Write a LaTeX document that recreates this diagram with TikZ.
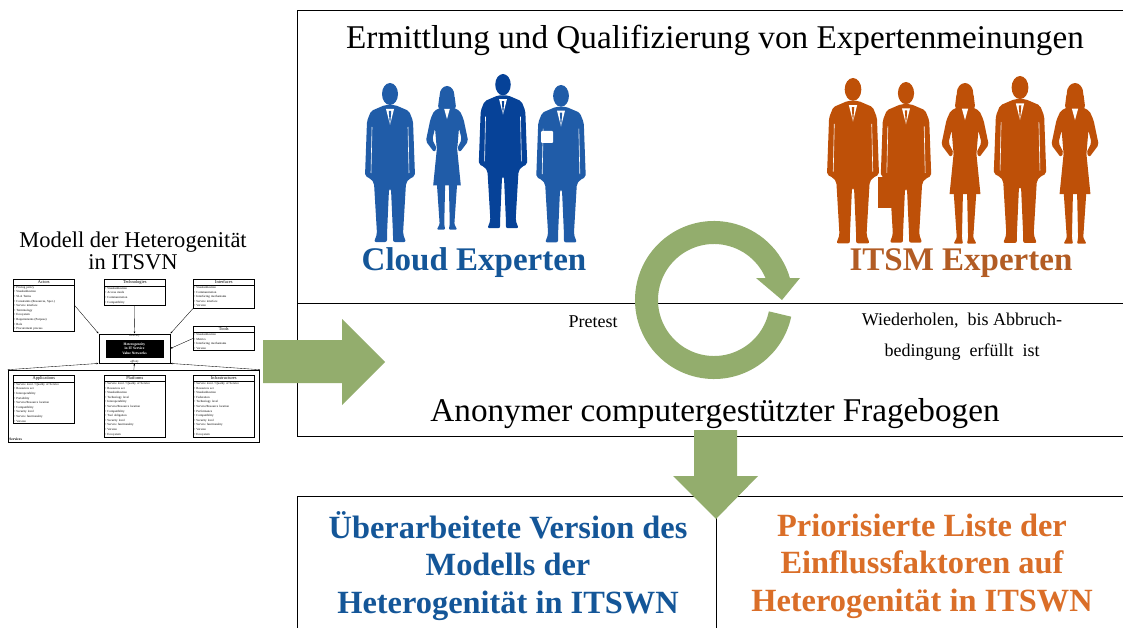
\documentclass[tikz,border=0pt]{standalone}
\usepackage{fontspec}
\setmainfont{Liberation Serif}
\usepackage{tikz}
\usetikzlibrary{positioning, arrows.meta, shapes.multipart, fit, calc}
\definecolor{ink}{RGB}{0,0,0}
\definecolor{leaf}{RGB}{147,173,109}
\definecolor{cloudfig}{RGB}{32,92,168}
\definecolor{clouddark}{RGB}{6,66,152}
\definecolor{cloudtext}{RGB}{20,86,152}
\definecolor{itsmfig}{RGB}{190,80,8}
\definecolor{itsmtext}{RGB}{178,92,36}
\definecolor{listorange}{RGB}{218,110,40}
\newcommand{\boxhead}[1]{\makebox[59pt][c]{\fontsize{4.4}{5.4}\selectfont #1}}
\tikzset{
  panel/.style    ={draw=ink, line width=0.8pt, anchor=north west, inner sep=0pt},
  headline/.style ={font=\fontsize{33.2}{33}\selectfont, inner sep=0pt},
  grouplabel/.style={font=\bfseries\fontsize{33}{33}\selectfont, inner sep=0pt},
  note/.style     ={font=\fontsize{18}{31}\selectfont, align=center, inner sep=0pt},
  result/.style   ={font=\bfseries\fontsize{32.4}{37.5}\selectfont, align=center, inner sep=0pt},
  mbox/.style     ={rectangle split, rectangle split parts=2, draw=ink, line width=0.45pt,
                    text width=59pt, inner sep=1.1pt, anchor=north west,
                    font=\fontsize{3.1}{4.6}\selectfont},
  mline/.style    ={-{Latex[length=2pt, width=1.8pt]}, line width=0.35pt, color=ink},
  pics/manfig/.style={code={
    \fill[#1] (0,11) ellipse [x radius=8, y radius=11];
    \fill[#1, rounded corners=2pt] (-5,22) -- (-19,28) -- (-23,38) -- (-25,93) -- (-19,96)
      -- (-16,100) -- (-13,151) -- (-16,159) -- (-3,159) -- (-3,151) -- (-1,106) -- (1,106)
      -- (3,151) -- (3,159) -- (16,159) -- (13,151) -- (16,100) -- (19,96) -- (25,93)
      -- (23,38) -- (19,28) -- (5,22) -- cycle;
    \fill[white] (-4,26) -- (0,42) -- (4,26) -- cycle;
    \fill[#1] (-1.2,28) -- (0,44) -- (1.2,28) -- cycle;
    \draw[white, line width=0.6pt] (-18,44) -- (-19,90) (18,44) -- (19,90);
  }},
  pics/womanfig/.style={code={
    \fill[#1] (0,10) ellipse [x radius=8, y radius=10];
    \fill[#1, rounded corners=3pt] (-8,9) -- (-10,25) -- (10,25) -- (8,9) -- cycle;
    \fill[#1, rounded corners=2pt] (-4,22) -- (-14,27) -- (-18,36) -- (-23,60) -- (-14,72)
      -- (-11,68) -- (-16,58) -- (-13,46) -- (-11,70) -- (11,70) -- (13,46) -- (16,58)
      -- (11,68) -- (14,72) -- (23,60) -- (18,36) -- (14,27) -- (4,22) -- cycle;
    \fill[#1] (-11,68) -- (-15,108) -- (15,108) -- (11,68) -- cycle;
    \fill[#1, rounded corners=1pt] (-11,106) -- (-8,150) -- (-11,156) -- (-2,156) -- (-3,150) -- (-2,106) -- cycle;
    \fill[#1, rounded corners=1pt] (11,106) -- (8,150) -- (11,156) -- (2,156) -- (3,150) -- (2,106) -- cycle;
    \fill[white] (-3,25) -- (0,36) -- (3,25) -- cycle;
  }},
}

\begin{document}
\begin{tikzpicture}[x=1pt, y=-1pt]
\useasboundingbox[fill=white] (0,0) rectangle (1123,628);

% panels
\node[panel, minimum width=840pt, minimum height=292.5pt] (elicit) at (297,10.5) {};
\node[panel, minimum width=840pt, minimum height=133pt] (survey) at (297,303) {};
\node[panel, minimum width=419pt, minimum height=150pt] (revmodel) at (297,496) {};
\node[panel, minimum width=420pt, minimum height=150pt] (factors) at (716,496) {};

% model of heterogeneity
\node[align=center, font=\fontsize{22.5}{22}\selectfont, inner sep=0pt] (modeltitle) at (133,251)
  {Modell der Heterogenität\\in ITSVN};

\node[mbox] (actors) at (13,279)
  {\boxhead{Actors}\nodepart{two}\raggedright
   \textbullet\ Pricing policy\\ \textbullet\ Standardization\\ \textbullet\ SLA Terms\\
   \textbullet\ Constraints (Resources, Spec.)\\ \textbullet\ Service interface\\
   \textbullet\ Terminology\\ \textbullet\ Ecosystem\\ \textbullet\ Requirements (Purpose)\\
   \textbullet\ Role\\ \textbullet\ Procurement process};
\node[mbox] (techn) at (104,279)
  {\boxhead{Technologies}\nodepart{two}\raggedright
   \textbullet\ Standardization\\ \textbullet\ Access mode\\ \textbullet\ Communication\\
   \textbullet\ Compatibility};
\node[mbox] (iface) at (193,279)
  {\boxhead{Interfaces}\nodepart{two}\raggedright
   \textbullet\ Standardization\\ \textbullet\ Communication\\ \textbullet\ Interfacing mechanisms\\
   \textbullet\ Service interface\\ \textbullet\ Version};
\node[mbox] (tools) at (193,326)
  {\boxhead{Tools}\nodepart{two}\raggedright
   \textbullet\ Standardization\\ \textbullet\ Metrics\\ \textbullet\ Interfacing mechanisms\\
   \textbullet\ Version};

\node[draw=ink, line width=0.8pt, minimum width=71pt, minimum height=29pt, inner sep=0pt] (core) at (134.5,348.5) {};
\node[fill=black, text=white, align=center, font=\bfseries\fontsize{3.6}{4.4}\selectfont,
      minimum width=58pt, minimum height=18pt, inner sep=0pt] (corein) at (core)
  {Heterogeneity\\in IT Service\\Value Networks};
\node[font=\itshape\fontsize{3}{3}\selectfont, inner sep=0.4pt, anchor=north] (divers) at (core.north) {diversity};
\node[font=\itshape\fontsize{3}{3}\selectfont, inner sep=0.4pt, anchor=south] (affin) at (core.south) {affinity};

\node[mbox] (apps) at (13,375)
  {\boxhead{Applications}\nodepart{two}\raggedright
   \textbullet\ Service level / Quality of Service\\ \textbullet\ Resources set\\
   \textbullet\ Interoperability\\ \textbullet\ Portability\\ \textbullet\ Service/Resource location\\
   \textbullet\ Compatibility\\ \textbullet\ Security level\\ \textbullet\ Service functionality\\
   \textbullet\ Version};
\node[mbox] (plat) at (104,375)
  {\boxhead{Platforms}\nodepart{two}\raggedright
   \textbullet\ Service level / Quality of Service\\ \textbullet\ Resources set\\
   \textbullet\ Standardization\\ \textbullet\ Technology level\\ \textbullet\ Interoperability\\
   \textbullet\ Service/Resource location\\ \textbullet\ Compatibility\\ \textbullet\ Tool obligation\\
   \textbullet\ Security level\\ \textbullet\ Service functionality\\ \textbullet\ Version\\
   \textbullet\ Ecosystem};
\node[mbox] (infra) at (193,375)
  {\boxhead{Infrastructures}\nodepart{two}\raggedright
   \textbullet\ Service level / Quality of Service\\ \textbullet\ Resources set\\
   \textbullet\ Standardization\\ \textbullet\ Federation\\ \textbullet\ Technology level\\
   \textbullet\ Service/Resource location\\ \textbullet\ Performance\\ \textbullet\ Compatibility\\
   \textbullet\ Security level\\ \textbullet\ Service functionality\\ \textbullet\ Version\\
   \textbullet\ Ecosystem};
\node[draw=ink, line width=0.6pt, fit=(apps)(plat)(infra), inner sep=5pt] (services) {};
\node[font=\bfseries\fontsize{3.6}{4}\selectfont, anchor=south west, inner sep=1.5pt] (servlbl) at (services.south west) {Services};

\draw[mline] (actors.east) -- (core.north west);
\draw[mline] (techn.south) -- (core.north);
\draw[mline] (iface.south west) -- (core.north east);
\draw[mline] (tools.west) -- (core.east);
\draw[mline] (services.north west) -- (core.south west);
\draw[mline] (services.north) -- (core.south);
\draw[mline] (services.north east) -- (core.south east);

% experts
\pic[scale=1.00] at (390,83) {manfig=cloudfig};
\pic[scale=0.92] at (447,86) {womanfig=cloudfig};
\pic[scale=0.97] at (503,74) {manfig=clouddark};
\pic[scale=0.99] at (561,85) {manfig=cloudfig};
\fill[white, rounded corners=1pt] (541,131) rectangle (553,143);

\pic[scale=1.04] at (853,78) {manfig=itsmfig};
\pic[scale=1.01] at (906,82) {manfig=itsmfig};
\fill[itsmfig] (878,177) rectangle (897,208);
\pic[scale=1.03] at (965,83) {womanfig=itsmfig};
\pic[scale=1.05] at (1020,76) {manfig=itsmfig};
\pic[scale=1.03] at (1075,83) {womanfig=itsmfig};

\node[headline, anchor=base] (title) at (715,49) {Ermittlung und Qualifizierung von Expertenmeinungen};
\node[grouplabel, text=cloudtext, anchor=base] (cloudlbl) at (474,270) {Cloud Experten};
\node[grouplabel, text=itsmtext, anchor=base] (itsmlbl) at (961,270) {ITSM Experten};

% survey loop
\coordinate (ring) at (714,300);
\draw[leaf, line width=23pt] ($(ring)+(12:67.5)$) arc[start angle=12, end angle=344, radius=67.5];
\fill[leaf] (756,278) -- (800,278) -- (782,300) -- cycle;

\node[note, anchor=base] (pretest) at (593,327) {Pretest};
\node[note] (repeat) at (962,337) {Wiederholen,\ \ bis Abbruch-\\bedingung\ \ erfüllt\ \ ist};
\node[headline, anchor=base] (anon) at (715,421) {Anonymer computergestützter Fragebogen};

% flow arrows
\fill[leaf] (263,340) -- (342,340) -- (342,319) -- (385,362) -- (342,405) -- (342,383) -- (263,383) -- cycle;
\fill[leaf] (694,430) -- (737,430) -- (737,476) -- (758,476) -- (716,519) -- (673,476) -- (694,476) -- cycle;

% results
\node[result, text=cloudtext] (revtext) at (508,566) {Überarbeitete Version des\\Modells der\\Heterogenität in ITSWN};
\node[result, text=listorange] (factext) at (922,566) {Priorisierte Liste der\\Einflussfaktoren auf\\Heterogenität in ITSWN};
\end{tikzpicture}
\end{document}
